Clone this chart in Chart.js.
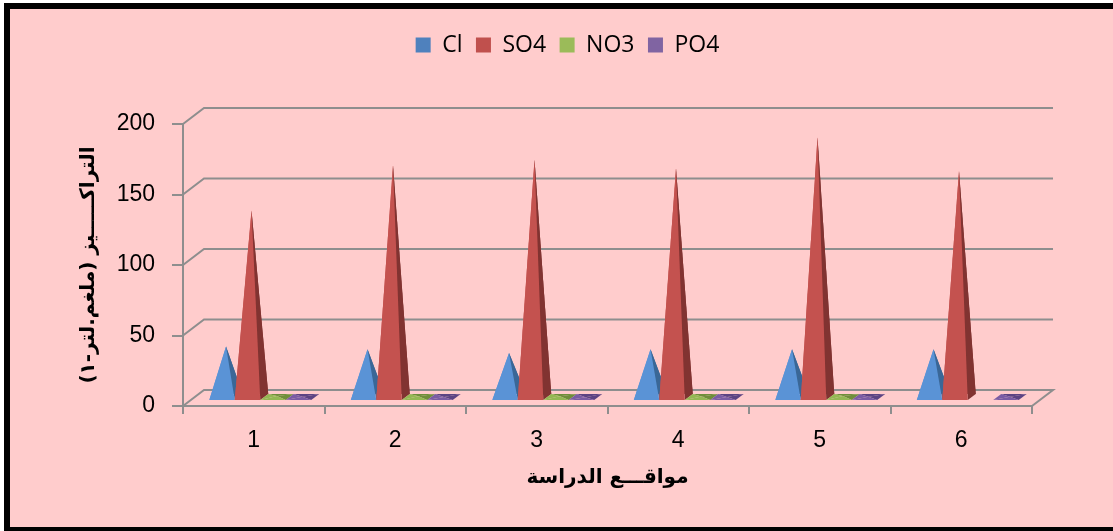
<!DOCTYPE html>
<html>
<head>
<meta charset="utf-8">
<script src="https://cdn.jsdelivr.net/npm/chart.js@4.4.1/dist/chart.umd.min.js"></script>
<style>
  html, body { margin: 0; padding: 0; background: #ffffff; }
  #wrap { width: 1113px; height: 531px; }
</style>
</head>
<body>
<div id="wrap"><canvas id="chart" width="1113" height="531"></canvas></div>
<script>
// Study sites and measured concentrations (mg/L)
const sites = ['1', '2', '3', '4', '5', '6'];
const seriesNames = ['Cl', 'SO4', 'NO3', 'PO4'];
const clValues  = [36.5, 34.5, 32, 34.5, 34.5, 34.5];
const so4Values = [133, 165, 169, 163, 185, 161];
const no3Values = [1.4, 1.2, 1.3, 1.1, 1.4, 0];
const po4Values = [0.8, 0.7, 0.6, 0.7, 0.8, 0.9];
const yTicks = [0, 50, 100, 150, 200];

const xTitle = 'مواقـــع الدراسة';
const yTitle = '\u202Bالتراكـــــيز (ملغم.لتر-١)\u202C';

// colours: legend swatch, lit face, shaded face
const palette = [
  { base: '#4F81BD', lit: '#5A93D6', dark: '#3A6797' },
  { base: '#C0504D', lit: '#C4524F', dark: '#813331' },
  { base: '#9BBB59', lit: '#94B853', dark: '#6F8E3A' },
  { base: '#8064A2', lit: '#7A5CA4', dark: '#5C4383' }
];
const GRID = '#8e8e8e';
const DX = 21, DY = -16;          // projected offset of the full floor depth
const FRONT = 0.31, BACK = 0.69;  // depth band occupied by each pyramid base
const LEGEND_FONT = 23;
const LEGEND_PAD = 13.5;
const LEGEND_GAP = 57.5;          // empty band between legend and plot

const seriesValues = [clValues, so4Values, no3Values, po4Values];

// empty layout box that keeps the legend up near the top edge
const legendGapPlugin = {
  id: 'legendGap',
  start(chart) {
    Chart.layouts.addBox(chart, {
      position: 'top',
      fullSize: true,
      weight: 0,
      options: {},
      left: 0, top: 0, right: 0, bottom: 0, width: 0, height: 0,
      isHorizontal() { return true; },
      update(maxWidth) { this.width = maxWidth; this.height = LEGEND_GAP; },
      draw() {}
    });
  }
};

const pyramidPlugin = {
  id: 'pyramid3d',
  beforeDraw(chart) {
    const { ctx, width, height } = chart;
    ctx.save();
    ctx.fillStyle = '#ffffff';
    ctx.fillRect(0, 0, width, height);
    ctx.fillStyle = '#000000';
    ctx.fillRect(4, 3, width, height);
    ctx.fillStyle = '#FFCCCC';
    ctx.fillRect(10, 9, width, 518);
    ctx.restore();
  },
  beforeDatasetsDraw(chart) {
    const { ctx, chartArea: a, scales: { y } } = chart;
    ctx.save();
    ctx.strokeStyle = GRID;
    ctx.lineWidth = 2;
    yTicks.forEach(v => {
      const yf = y.getPixelForValue(v);
      ctx.beginPath();
      ctx.moveTo(a.left, yf);
      ctx.lineTo(a.left + DX, yf + DY);
      ctx.lineTo(a.right + DX, yf + DY);
      if (v === 0) ctx.lineTo(a.right, yf);
      ctx.stroke();
    });
    ctx.restore();
  },
  beforeDatasetDraw() {
    return false; // bars are replaced by pyramids below
  },
  afterDatasetsDraw(chart) {
    const { ctx } = chart;
    const poly = (pts, color) => {
      ctx.beginPath();
      ctx.moveTo(pts[0][0], pts[0][1]);
      for (let k = 1; k < pts.length; k++) ctx.lineTo(pts[k][0], pts[k][1]);
      ctx.closePath();
      ctx.fillStyle = color;
      ctx.fill();
    };
    ctx.save();
    for (let i = 0; i < chart.data.labels.length; i++) {
      chart.data.datasets.forEach((ds, d) => {
        if (!ds.data[i]) return;
        const el = chart.getDatasetMeta(d).data[i];
        const { x, y, base, width } = el.getProps(['x', 'y', 'base', 'width'], true);
        const h = width / 2;
        const FL = [x - h + FRONT * DX, base + FRONT * DY];
        const FR = [x + h + FRONT * DX, base + FRONT * DY];
        const BR = [x + h + BACK * DX, base + BACK * DY];
        const BL = [x - h + BACK * DX, base + BACK * DY];
        const A  = [x + 0.5 * DX, y + 0.5 * DY];
        const c = palette[d];
        poly([BL, BR, A], c.dark);
        poly([FL, BL, A], c.lit);
        poly([FR, BR, A], c.dark);
        poly([FL, FR, A], c.lit);
      });
    }
    ctx.restore();
  }
};

const datasets = seriesNames.map((name, d) => ({
  label: name,
  data: seriesValues[d],
  backgroundColor: palette[d].base,
  borderWidth: 0
}));

new Chart(document.getElementById('chart'), {
  type: 'bar',
  data: { labels: sites, datasets },
  plugins: [legendGapPlugin, pyramidPlugin],
  options: {
    responsive: false,
    animation: false,
    events: [],
    layout: { padding: { left: 103, right: 81, top: 20, bottom: 0 } },
    datasets: { bar: { categoryPercentage: 0.72, barPercentage: 1 } },
    plugins: {
      tooltip: { enabled: false },
      legend: {
        position: 'top',
        labels: {
          boxWidth: 15,
          boxHeight: 15,
          padding: LEGEND_PAD,
          color: '#000000',
          font: { family: "'Liberation Sans Narrow', 'Arial Narrow', 'Open Sans', sans-serif", size: LEGEND_FONT }
        }
      }
    },
    scales: {
      x: {
        type: 'category',
        offset: true,
        afterFit(s) { s.height = 125; },
        grid: { offset: true, drawOnChartArea: false, tickLength: 8, color: GRID, lineWidth: 2 },
        border: { display: true, color: GRID, width: 2 },
        ticks: { padding: 13, color: '#000000', font: { family: "'Liberation Sans', Arial, sans-serif", size: 23 } },
        title: {
          display: true, text: xTitle, color: '#000000',
          font: { family: "'DejaVu Sans', sans-serif", weight: 'bold', size: 20 },
          padding: { top: 0, bottom: 41 }
        }
      },
      y: {
        min: 0, max: 200,
        afterBuildTicks(s) { s.ticks = yTicks.map(v => ({ value: v })); },
        afterFit(s) { s.width = 80; },
        grid: { drawOnChartArea: false, tickLength: 11, color: GRID, lineWidth: 2 },
        border: { display: true, color: GRID, width: 2 },
        ticks: { padding: 17, color: '#000000', font: { family: "'Liberation Sans', Arial, sans-serif", size: 23 } },
        title: {
          display: true, text: yTitle, color: '#000000',
          font: { family: "'DejaVu Sans', sans-serif", weight: 'bold', size: 20 },
          padding: { top: -26, bottom: 0 }
        }
      }
    }
  }
});
</script>
</body>
</html>
